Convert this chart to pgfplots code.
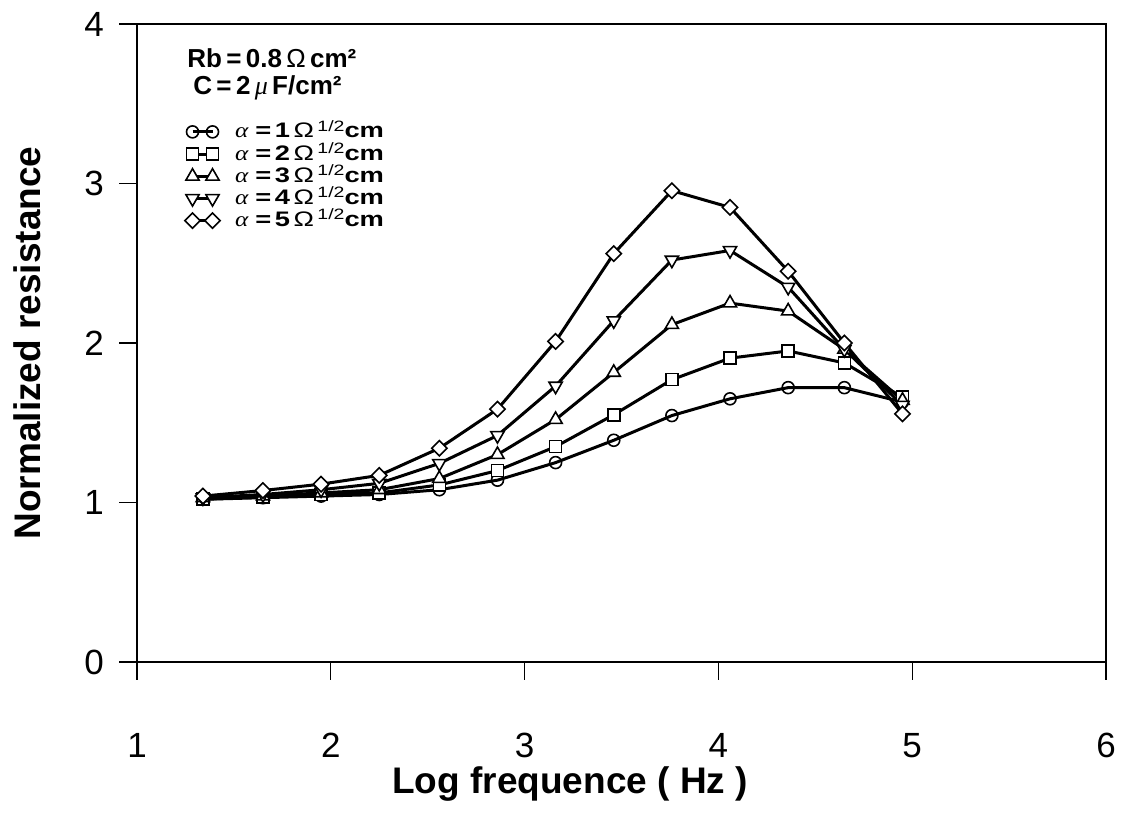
\documentclass[border=0pt]{standalone}
\usepackage{fontspec}
\setmainfont{Liberation Sans}
\newfontfamily\widefont[FakeStretch=1.3, BoldFeatures={FakeStretch=1.3}]{Liberation Sans}
\newfontfamily\wideserif[FakeStretch=1.2]{Liberation Serif}
\newfontfamily\serif{Liberation Serif}
\usepackage{pgfplots}
\pgfplotsset{compat=1.18}
\usetikzlibrary{calc}

\newcommand{\legfont}{\widefont\bfseries\fontsize{10.5}{12}\selectfont}
\newcommand{\headfont}{\bfseries\fontsize{13}{14}\selectfont}
\newcommand{\aentry}[1]{{\wideserif\itshape\mdseries α}\,\,=\,#1\,{\mdseries Ω}\,\raisebox{0.32em}{\fontsize{7.5}{8}\selectfont\mdseries 1/2}cm}

\begin{document}
\begin{tikzpicture}
\begin{axis}[
    scale only axis,
    width=484.5pt,
    height=319pt,
    xmin=1, xmax=6,
    ymin=0, ymax=4,
    xtick={1,2,3,4,5,6},
    ytick={0,1,2,3,4},
    xtick pos=left, ytick pos=left,
    tick align=outside,
    major tick length=9pt,
    axis line style={line width=0.8pt},
    tick style={line width=0.6pt, black},
    /pgf/number format/assume math mode=true,
    tick label style={font=\fontsize{17.5}{20}\selectfont},
    xticklabel style={yshift=-23pt},
    yticklabel style={xshift=-4pt},
    xlabel={Log frequence ( Hz )},
    ylabel={Normalized resistance},
    label style={font=\bfseries\fontsize{18.5}{22}\selectfont},
    xlabel style={at={(axis description cs:0.447,0)}, anchor=base, yshift=-66pt},
    ylabel style={at={(axis description cs:-0.1135,0.5)}, anchor=center},
    every axis plot/.append style={black, line width=1.5pt},
    legend image code/.code={\draw[#1] plot coordinates {(0pt,0pt) (10pt,0pt)};},
    legend cell align=left,
    legend style={at={(axis cs:1.245,3.39)}, anchor=north west, draw=none, fill=none,
        inner sep=0pt, row sep=0.9pt,
        font=\legfont,
        nodes={inner sep=0.5pt, text height=7.6pt, text depth=1.6pt},
        /tikz/every odd column/.append style={column sep=7pt}},
]
\coordinate (bl) at (rel axis cs:0,0);
\coordinate (tr) at (rel axis cs:1,1);

% alpha = 1
\addplot[mark=o, mark size=3pt, mark options={solid, fill=white, line width=0.8pt}] coordinates {
    (1.34,1.02) (1.65,1.03) (1.95,1.04) (2.25,1.05) (2.56,1.08) (2.86,1.14) (3.16,1.25)
    (3.46,1.39) (3.76,1.545) (4.06,1.65) (4.36,1.72) (4.65,1.72) (4.95,1.63)
};
% alpha = 2
\addplot[mark=square*, mark size=3pt, mark options={solid, fill=white, line width=0.8pt}] coordinates {
    (1.34,1.02) (1.65,1.035) (1.95,1.05) (2.25,1.06) (2.56,1.11) (2.86,1.20) (3.16,1.35)
    (3.46,1.55) (3.76,1.77) (4.06,1.905) (4.36,1.95) (4.65,1.875) (4.95,1.66)
};
% alpha = 3
\addplot[mark=triangle*, mark size=3.8pt, mark options={solid, fill=white, line width=0.8pt}] coordinates {
    (1.34,1.03) (1.65,1.04) (1.95,1.06) (2.25,1.08) (2.56,1.15) (2.86,1.30) (3.16,1.52)
    (3.46,1.815) (3.76,2.115) (4.06,2.25) (4.36,2.20) (4.65,1.96) (4.95,1.64)
};
% alpha = 4
\addplot[mark=triangle*, mark size=3.8pt, mark options={solid, fill=white, line width=0.8pt, rotate=180}] coordinates {
    (1.34,1.03) (1.65,1.05) (1.95,1.08) (2.25,1.12) (2.56,1.245) (2.86,1.42) (3.16,1.73)
    (3.46,2.14) (3.76,2.52) (4.06,2.58) (4.36,2.35) (4.65,1.96) (4.95,1.61)
};
% alpha = 5
\addplot[mark=square*, mark size=2.7pt, mark options={solid, fill=white, line width=0.8pt, rotate=45}] coordinates {
    (1.34,1.04) (1.65,1.075) (1.95,1.115) (2.25,1.17) (2.56,1.34) (2.86,1.585) (3.16,2.01)
    (3.46,2.56) (3.76,2.955) (4.06,2.85) (4.36,2.45) (4.65,2.0) (4.95,1.555)
};

\legend{\aentry{1}, \aentry{2}, \aentry{3}, \aentry{4}, \aentry{5}}

\node[anchor=base west, inner sep=0pt] at (axis cs:1.258,3.73)
    {\headfont Rb\,=\,0.8\,{\mdseries Ω}\,cm²};
\node[anchor=base west, inner sep=0pt] at (axis cs:1.289,3.56)
    {\headfont C\,=\,2\,{\serif\itshape\mdseries μ}\,F/cm²};
\end{axis}
\pgfresetboundingbox
\path ($(bl)+(-68.5pt,-76pt)$) rectangle ($(tr)+(12pt,12pt)$);
\end{tikzpicture}
\end{document}
